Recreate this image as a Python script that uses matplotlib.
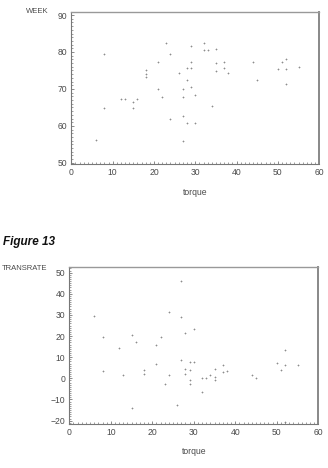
import matplotlib
matplotlib.use("Agg")
import matplotlib.pyplot as plt
from matplotlib.ticker import MultipleLocator

plt.rcParams['font.family'] = ['Liberation Sans', 'DejaVu Sans']

# torque vs WEEK (top panel)
torque_week = [6, 8, 8, 12, 13, 15, 15, 16, 18, 18, 18, 21, 21, 22, 23, 24, 24, 26,
               27, 27, 27, 27, 28, 28, 28, 29, 29, 29, 29, 30, 30, 32, 32, 33, 34,
               35, 35, 35, 37, 37, 38, 44, 45, 50, 51, 52, 52, 52, 55]
week = [56.3, 79.4, 64.8, 67.4, 67.4, 66.4, 64.8, 67.4, 75.0, 74.0, 73.3, 77.4, 70.0,
        67.8, 82.5, 79.5, 62.0, 74.4, 70.0, 67.8, 62.8, 55.9, 75.8, 72.4, 60.8, 81.5,
        77.4, 75.8, 70.4, 68.4, 60.8, 82.5, 80.5, 80.5, 65.4, 80.9, 76.9, 74.9, 77.4,
        75.8, 74.4, 77.4, 72.4, 75.4, 77.4, 78.0, 75.4, 71.4, 75.9]

# torque vs TRANSRATE (bottom panel)
torque_rate = [6, 8, 8, 12, 13, 15, 15, 16, 18, 18, 21, 21, 22, 23, 24, 24, 26, 27,
               27, 27, 28, 28, 28, 29, 29, 29, 29, 30, 30, 32, 32, 33, 34, 35, 35, 35,
               37, 37, 38, 44, 45, 50, 51, 52, 52, 52, 55]
transrate = [29.7, 19.4, 3.3, 14.2, 1.7, 20.3, -14.0, 17.2, 3.8, 2.2, 15.6, 6.8, 19.4,
             -2.5, 31.2, 1.6, -12.6, 45.9, 29.2, 8.7, 21.6, 4.6, 2.2, 7.6, 4.1, -0.6,
             -2.5, 23.3, 7.6, 0.0, -6.3, 0.0, 1.7, 4.3, 0.6, -0.8, 6.5, 2.8, 3.6, 1.6,
             0.0, 7.1, 4.1, 13.2, 6.2, -20.5, 6.5]

xticks = [0, 10, 20, 30, 40, 50, 60]
week_ticks = [50, 60, 70, 80, 90]
rate_ticks = [-20, -10, 0, 10, 20, 30, 40, 50]

text_color = '#4a4a4a'


def style_axes(ax):
    for side in ['left', 'bottom']:
        ax.spines[side].set_color('#777777')
        ax.spines[side].set_linewidth(0.8)
    ax.spines['top'].set_color('#999999')
    ax.spines['top'].set_linewidth(1.0)
    ax.spines['right'].set_color('#888888')
    ax.spines['right'].set_linewidth(1.4)
    ax.xaxis.set_minor_locator(MultipleLocator(1))
    ax.yaxis.set_minor_locator(MultipleLocator(1))
    ax.tick_params(which='both', direction='in', top=False, right=False,
                   color='#777777', labelsize=6.2, labelcolor=text_color)
    ax.tick_params(which='major', length=2.5, width=0.6, pad=3)
    ax.tick_params(which='minor', length=1.2, width=0.5)


fig = plt.figure(figsize=(3.28, 4.68), dpi=100)

ax1 = fig.add_axes([0.2174, 0.6496, 0.756, 0.3254])
ax1.scatter(torque_week, week, marker='+', s=3, linewidths=0.5, color='#8c8c8c')
ax1.set_xlim(0, 60)
ax1.set_ylim(49.7, 90.9)
ax1.set_xticks(xticks)
ax1.set_yticks(week_ticks)
style_axes(ax1)
ax1.set_xlabel('torque', fontsize=6.2, color=text_color, labelpad=8)
fig.text(0.147, 0.976, 'WEEK', fontsize=5.5, color=text_color, ha='right', va='center')

ax2 = fig.add_axes([0.2113, 0.094, 0.759, 0.336])
ax2.scatter(torque_rate, transrate, marker='+', s=3, linewidths=0.5, color='#8c8c8c')
ax2.set_xlim(0, 60)
ax2.set_ylim(-21.6, 52.8)
ax2.set_xticks(xticks)
ax2.set_yticks(rate_ticks)
style_axes(ax2)
ax2.set_xlabel('torque', fontsize=6.2, color=text_color, labelpad=7)
fig.text(0.143, 0.426, 'TRANSRATE', fontsize=5.5, color=text_color, ha='right', va='center')

fig.text(0.01, 0.483, 'Figure 13', fontsize=8.5, style='italic', weight='bold',
         color='#111111', ha='left', va='center')

fig.savefig('out.png', dpi=100)
